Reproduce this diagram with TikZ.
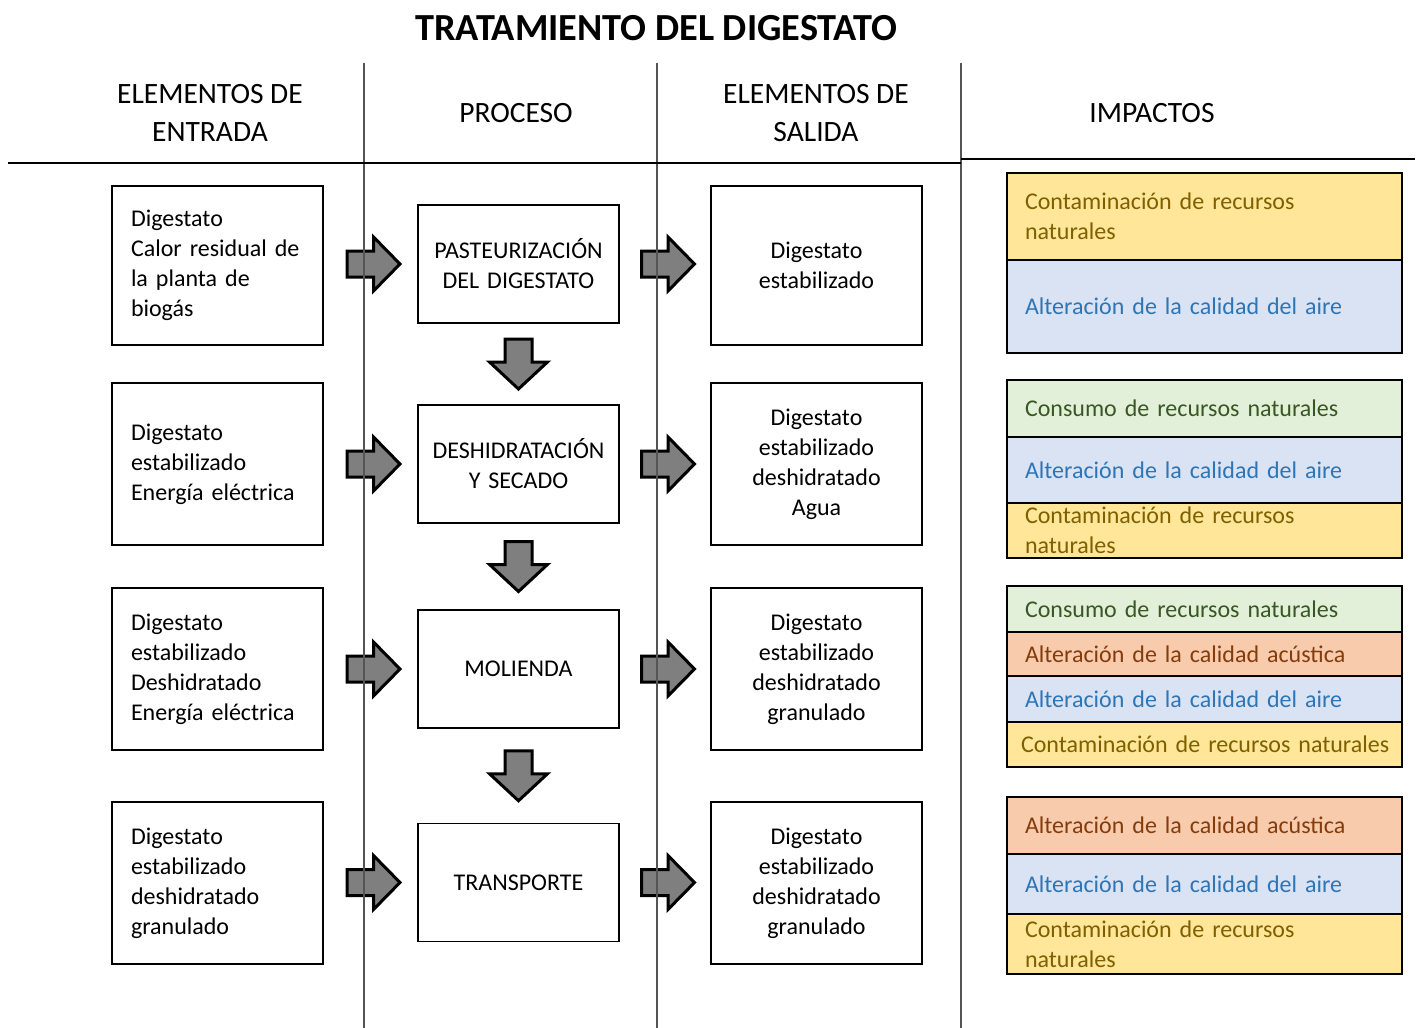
\documentclass[tikz,border=0pt]{standalone}
\usepackage{fontspec}
\setmainfont{Carlito}
\usetikzlibrary{calc}
\definecolor{yelF}{HTML}{FFE699}\definecolor{yelT}{HTML}{7F6000}
\definecolor{bluF}{HTML}{DAE3F3}\definecolor{bluT}{HTML}{2E75B6}
\definecolor{grnF}{HTML}{E2F0D9}\definecolor{grnT}{HTML}{385723}
\definecolor{orgF}{HTML}{F8CBAD}\definecolor{orgT}{HTML}{843C0C}
\definecolor{arrG}{HTML}{7F7F7F}
\definecolor{sepG}{HTML}{555555}
\newcommand\bodyfont{\fontsize{24}{30}\selectfont}
\newcommand\headfont{\fontsize{29.5}{38}\selectfont}
\tikzset{
  inbox/.style={draw, line width=1.8pt, fill=white, minimum width=211pt, minimum height=#1,
    text width=173pt, inner xsep=19pt, inner ysep=0pt, align=left, font=\bodyfont},
  outbox/.style={draw, line width=1.8pt, fill=white, minimum width=211pt, minimum height=#1,
    text width=200pt, inner xsep=5.5pt, inner ysep=0pt, align=center, font=\bodyfont},
  procbox/.style={draw, line width=1.8pt, fill=white, minimum width=201pt, minimum height=118pt,
    text width=195pt, inner xsep=3pt, inner ysep=0pt, align=center, font=\bodyfont},
  imp/.style={draw, line width=1.8pt, minimum width=395pt, minimum height=#1,
    text width=359pt, inner xsep=18pt, inner ysep=0pt, align=left, font=\bodyfont},
  yel/.style={fill=yelF, text=yelT}, blu/.style={fill=bluF, text=bluT},
  grn/.style={fill=grnF, text=grnT}, org/.style={fill=orgF, text=orgT},
  header/.style={align=center, font=\headfont},
  sepline/.style={draw=sepG, line width=1.8pt},
  blockarrow/.style={draw=black, fill=arrG, line width=3pt, line join=miter},
  rarrow/.pic={\path[blockarrow] (-26.5,-13) -- (0,-13) -- (0,-27) -- (26.5,0) -- (0,27) -- (0,13) -- (-26.5,13) -- cycle;},
  darrow/.pic={\path[blockarrow] (-13.5,-25) -- (13.5,-25) -- (13.5,-2) -- (29,-2) -- (0,25) -- (-29,-2) -- (-13.5,-2) -- cycle;}
}
\begin{document}
\begin{tikzpicture}[x=1pt,y=-1pt]
\useasboundingbox (0,0) rectangle (1417,1028);
\fill[white] (0,0) rectangle (1417,1028);

\node[font=\fontsize{38.3}{44}\selectfont\bfseries] (title) at (656.5,28) {TRATAMIENTO DEL DIGESTATO};
\node[header] (h1) at (210,113) {ELEMENTOS DE\\ENTRADA};
\node[header] (h2) at (516,113) {PROCESO};
\node[header] (h3) at (816,113) {ELEMENTOS DE\\SALIDA};
\node[header] (h4) at (1152,113) {IMPACTOS};

% input boxes
\node[inbox=159pt] (in1) at (217.5,265.5) {Digestato\\Calor residual de\\la planta de\\biogás};
\node[inbox=162pt] (in2) at (217.5,464) {Digestato\\estabilizado\\Energía eléctrica};
\node[inbox=162pt] (in3) at (217.5,669) {Digestato\\estabilizado\\Deshidratado\\Energía eléctrica};
\node[inbox=162pt] (in4) at (217.5,883) {Digestato\\estabilizado\\deshidratado\\granulado};

% process boxes
\node[procbox] (p1) at (518.5,264) {PASTEURIZACIÓN\\DEL DIGESTATO};
\node[procbox] (p2) at (518.5,464) {DESHIDRATACIÓN\\Y SECADO};
\node[procbox] (p3) at (518.5,669) {MOLIENDA};
\node[procbox] (p4) at (518.5,882.5) {TRANSPORTE};

% output boxes
\node[outbox=159pt] (o1) at (816.5,265.5) {Digestato\\estabilizado};
\node[outbox=162pt] (o2) at (816.5,464) {Digestato\\estabilizado\\deshidratado\\Agua};
\node[outbox=162pt] (o3) at (816.5,669) {Digestato\\estabilizado\\deshidratado\\granulado};
\node[outbox=162pt] (o4) at (816.5,883) {Digestato\\estabilizado\\deshidratado\\granulado};

% impacts
\node[imp=87pt, yel] (i11) at (1204.5,216.5) {Contaminación de recursos\\naturales};
\node[imp=93pt, blu] (i12) at (1204.5,306.5) {Alteración de la calidad del aire};

\node[imp=57pt, grn] (i21) at (1204.5,408.5) {Consumo de recursos naturales};
\node[imp=66pt, blu] (i22) at (1204.5,470) {Alteración de la calidad del aire};
\node[imp=55pt, yel] (i23) at (1204.5,530.5) {Contaminación de recursos\\naturales};

\node[imp=46pt, grn] (i31) at (1204.5,609) {Consumo de recursos naturales};
\node[imp=44pt, org] (i32) at (1204.5,654) {Alteración de la calidad acústica};
\node[imp=46pt, blu] (i33) at (1204.5,699) {Alteración de la calidad del aire};
\node[imp=45pt, yel, inner xsep=14pt, text width=367pt] (i34) at (1204.5,744.5) {\mbox{Contaminación de recursos naturales}};

\node[imp=57pt, org] (i41) at (1204.5,825.5) {Alteración de la calidad acústica};
\node[imp=60pt, blu] (i42) at (1204.5,884) {Alteración de la calidad del aire};
\node[imp=60pt, yel] (i43) at (1204.5,944) {Contaminación de recursos\\naturales};

% block arrows
\foreach \a/\b in {in1/p1,in2/p2,in3/p3,in4/p4}{
  \path ($(\a.east |- \b.center)!0.5!(\b.west)$) ++(3,0) pic {rarrow};
}
\foreach \a/\b in {p1/o1,p2/o2,p3/o3,p4/o4}{
  \path ($(\a.east)!0.5!(\b.west |- \a.center)$) ++(3,0) pic {rarrow};
}
\foreach \a/\b in {p1/p2,p2/p3,p3/p4}{
  \path ($(\a.south)!0.5!(\b.north)$) pic {darrow};
}

% separators
\coordinate (v1t) at (364,63); \coordinate (v1b) at (364,1028);
\coordinate (v2t) at (657,63); \coordinate (v2b) at (657,1028);
\coordinate (v3t) at (961,63); \coordinate (v3b) at (961,1028);
\draw[sepline] (v1t) -- (v1b);
\draw[sepline] (v2t) -- (v2b);
\draw[sepline] (v3t) -- (v3b);
\coordinate (hl) at (8,163); \coordinate (hm) at (961,163);
\coordinate (hm2) at (961,159); \coordinate (hr) at (1415,159);
\draw[line width=1.5pt] (hl) -- (hm);
\draw[line width=1.5pt] (hm2) -- (hr);
\end{tikzpicture}
\end{document}
